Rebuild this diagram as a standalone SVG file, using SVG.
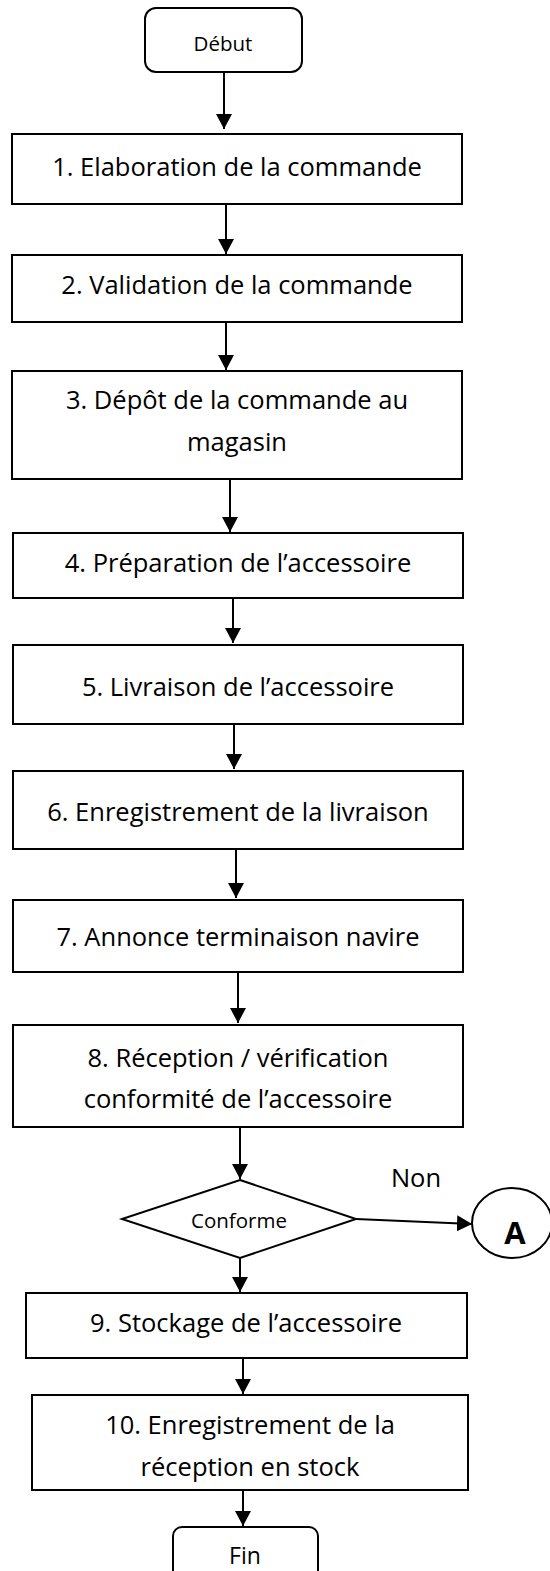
<svg xmlns="http://www.w3.org/2000/svg" width="550" height="1571" viewBox="0 0 550 1571">
  <style>
    .box { fill: #ffffff; stroke: #000000; stroke-width: 2; }
    .edge { fill: none; stroke: #000000; stroke-width: 2; }
    .t { font-family: "Open Sans", "Noto Sans", sans-serif; font-size: 25.5px; fill: #000000; text-anchor: middle; }
    .ts { font-family: "Open Sans", "Noto Sans", sans-serif; font-size: 20.5px; fill: #000000; text-anchor: middle; }
    .tb { font-family: "Open Sans", "Noto Sans", sans-serif; font-size: 31px; font-weight: bold; fill: #000000; text-anchor: middle; }
  </style>
  <defs>
    <marker id="arrow" markerUnits="userSpaceOnUse" markerWidth="16" markerHeight="16" viewBox="0 0 16 16" refX="15" refY="8" orient="auto">
      <path d="M0,0 L15,8 L0,16 Z" fill="#000000"/>
    </marker>
  </defs>
  <rect width="550" height="1571" fill="#ffffff"/>

  <!-- Connectors -->
  <g id="connectors">
    <line class="edge" x1="224" y1="72" x2="224" y2="129" marker-end="url(#arrow)"/>
    <line class="edge" x1="226" y1="204" x2="226" y2="254" marker-end="url(#arrow)"/>
    <line class="edge" x1="226" y1="322" x2="226" y2="370" marker-end="url(#arrow)"/>
    <line class="edge" x1="230" y1="479" x2="230" y2="532" marker-end="url(#arrow)"/>
    <line class="edge" x1="233" y1="598" x2="233" y2="643" marker-end="url(#arrow)"/>
    <line class="edge" x1="234" y1="724" x2="234" y2="769" marker-end="url(#arrow)"/>
    <line class="edge" x1="236" y1="849" x2="236" y2="898" marker-end="url(#arrow)"/>
    <line class="edge" x1="238" y1="972" x2="238" y2="1023" marker-end="url(#arrow)"/>
    <line class="edge" x1="240" y1="1127" x2="240" y2="1179" marker-end="url(#arrow)"/>
    <line class="edge" x1="356" y1="1219" x2="472" y2="1224" marker-end="url(#arrow)"/>
    <line class="edge" x1="240" y1="1258" x2="240" y2="1292" marker-end="url(#arrow)"/>
    <line class="edge" x1="243" y1="1358" x2="243" y2="1394" marker-end="url(#arrow)"/>
    <line class="edge" x1="243" y1="1490" x2="243" y2="1526" marker-end="url(#arrow)"/>
    <text class="t" x="416" y="1187">Non</text>
  </g>

  <g id="debut">
    <rect class="box" x="145" y="8" width="157" height="64" rx="11"/>
    <text class="ts" x="223" y="51">Début</text>
  </g>

  <g id="step1">
    <rect class="box" x="12" y="134" width="450" height="70"/>
    <text class="t" x="237" y="176">1. Elaboration de la commande</text>
  </g>

  <g id="step2">
    <rect class="box" x="12" y="255" width="450" height="67"/>
    <text class="t" x="237" y="294">2. Validation de la commande</text>
  </g>

  <g id="step3">
    <rect class="box" x="12" y="371" width="450" height="108"/>
    <text class="t" x="237" y="409">3. Dépôt de la commande au</text>
    <text class="t" x="237" y="451">magasin</text>
  </g>

  <g id="step4">
    <rect class="box" x="13" y="533" width="450" height="65"/>
    <text class="t" x="238" y="572">4. Préparation de l’accessoire</text>
  </g>

  <g id="step5">
    <rect class="box" x="13" y="645" width="450" height="79"/>
    <text class="t" x="238" y="696">5. Livraison de l’accessoire</text>
  </g>

  <g id="step6">
    <rect class="box" x="13" y="771" width="450" height="78"/>
    <text class="t" x="238" y="821">6. Enregistrement de la livraison</text>
  </g>

  <g id="step7">
    <rect class="box" x="13" y="900" width="450" height="72"/>
    <text class="t" x="238" y="946">7. Annonce terminaison navire</text>
  </g>

  <g id="step8">
    <rect class="box" x="13" y="1025" width="450" height="102"/>
    <text class="t" x="238" y="1067">8. Réception / vérification</text>
    <text class="t" x="238" y="1108">conformité de l’accessoire</text>
  </g>

  <g id="decision">
    <polygon class="box" points="240,1180 356,1219 240,1258 122,1219"/>
    <text class="ts" x="239" y="1228">Conforme</text>
  </g>

  <g id="connector-a">
    <ellipse class="box" cx="512" cy="1223" rx="40" ry="35"/>
    <text class="tb" x="515" y="1244">A</text>
  </g>

  <g id="step9">
    <rect class="box" x="26" y="1293" width="441" height="65"/>
    <text class="t" x="246" y="1332">9. Stockage de l’accessoire</text>
  </g>

  <g id="step10">
    <rect class="box" x="32" y="1395" width="436" height="95"/>
    <text class="t" x="250" y="1434">10. Enregistrement de la</text>
    <text class="t" x="250" y="1476">réception en stock</text>
  </g>

  <g id="fin">
    <rect class="box" x="173" y="1527" width="145" height="60" rx="9"/>
    <text class="t" x="245" y="1564" style="font-size:23px">Fin</text>
  </g>
</svg>
